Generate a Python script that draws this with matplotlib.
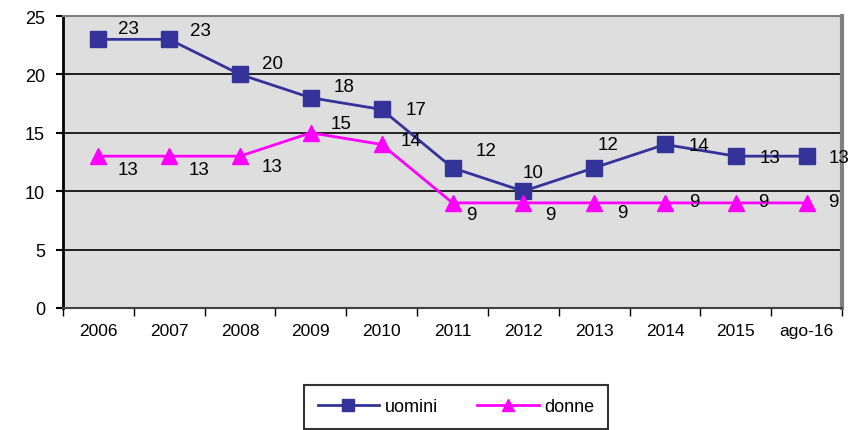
import matplotlib
matplotlib.use("Agg")
import matplotlib.pyplot as plt
from matplotlib.lines import Line2D

categories = ["2006", "2007", "2008", "2009", "2010", "2011", "2012", "2013", "2014", "2015", "ago-16"]
uomini = [23, 23, 20, 18, 17, 12, 10, 12, 14, 13, 13]
donne = [13, 13, 13, 15, 14, 9, 9, 9, 9, 9, 9]

# label offsets in pixels (dx, dy)
off_u = [(30, 11), (31, 9), (32, 11), (33, 11), (34, 0), (34, 17), (10, 19), (14, 23), (34, -1), (34, -1), (32, -1)]
off_d = [(30, -13), (30, -13), (32, -10), (30, 9), (29, 4), (19, -12), (27, -12), (28, -10), (29, 1), (28, 1), (27, 1)]

plt.rcParams['font.family'] = ['Liberation Sans', 'DejaVu Sans']

fig = plt.figure(figsize=(8.58, 4.31), dpi=100)
ax = fig.add_axes([63/858, 1-309/431, (842-63)/858, (309-17)/431])
ax.set_facecolor('#DEDEDE')

x = list(range(len(categories)))
ax.set_xlim(-0.5, len(categories) - 0.5)
ax.set_ylim(0, 25)
ax.set_yticks([0, 5, 10, 15, 20, 25])
for yv in [5, 10, 15, 20]:
    ax.axhline(yv, color='black', lw=1.2, zorder=1)

ax.plot(x, uomini, color='#333399', lw=2, marker='s', ms=11, zorder=3)
ax.plot(x, donne, color='#FF00FF', lw=2, marker='^', ms=11, zorder=3)

for i in x:
    dx, dy = off_u[i]
    ax.annotate(str(uomini[i]), (i, uomini[i]), xytext=(dx, dy), textcoords='offset pixels',
                ha='center', va='center', fontsize=13.5, color='black', zorder=4)
    dx, dy = off_d[i]
    ax.annotate(str(donne[i]), (i, donne[i]), xytext=(dx, dy), textcoords='offset pixels',
                ha='center', va='center', fontsize=13.5, color='black', zorder=4)

ax.set_xticks(x)
ax.set_xticklabels(categories, fontsize=12.5)
ax.set_xticks([i - 0.5 for i in range(len(categories) + 1)], minor=True)
ax.tick_params(axis='x', which='major', length=0, pad=11)
ax.tick_params(axis='x', which='minor', length=6, width=1, color='black', direction='out')
ax.tick_params(axis='y', length=5, width=1.5, labelsize=13, pad=8)

ax.spines['left'].set_color('black')
ax.spines['left'].set_linewidth(2)
ax.spines['bottom'].set_color('#404040')
ax.spines['bottom'].set_linewidth(1.5)
ax.spines['top'].set_color('#808080')
ax.spines['top'].set_linewidth(1.5)
ax.spines['right'].set_color('#808080')
ax.spines['right'].set_linewidth(3)

h1 = Line2D([], [], color='#333399', lw=2, marker='s', ms=9)
h2 = Line2D([], [], color='#FF00FF', lw=2, marker='^', ms=9)
leg = fig.legend([h1, h2], ['uomini', 'donne'], loc='center', bbox_to_anchor=(456/858, 1-408/431),
                 ncol=2, frameon=True, fancybox=False, edgecolor='black', fontsize=13,
                 handlelength=3.4, columnspacing=2.2, borderpad=0.75, handletextpad=0.3,
                 borderaxespad=0)
leg.get_frame().set_linewidth(1.5)

fig.savefig('out.png', dpi=100)
